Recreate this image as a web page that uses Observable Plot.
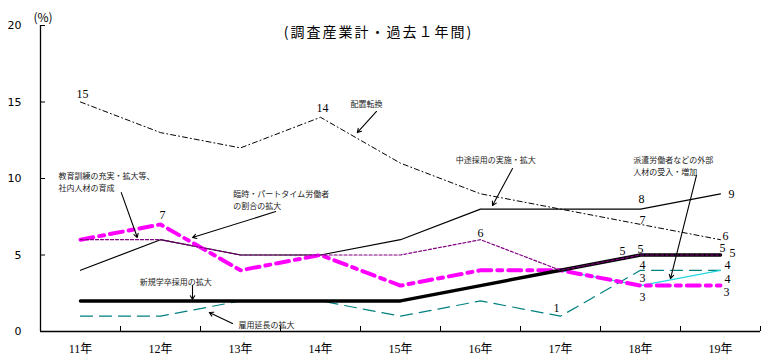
<!DOCTYPE html>
<html><head><meta charset="utf-8">
<script src="https://cdn.jsdelivr.net/npm/d3@7"></script>
<script src="https://cdn.jsdelivr.net/npm/@observablehq/plot@0.6"></script>
<style>
body{margin:0;background:#fff;}
</style>
</head><body><div id="chart"></div>
<script>
const years = ["11年","12年","13年","14年","15年","16年","17年","18年","19年"];
const haichi = [15,13,12,14,11,9,8,7,6];       // 配置転換
const chuto  = [4,6,5,5,6,8,8,8,9];            // 中途採用の実施・拡大
const kyoiku = [6,6,5,5,5,6,4,5,5];            // 教育訓練の充実・拡大等、社内人材の育成
const rinji  = [6,7,4,5,3,4,4,3,3];            // 臨時・パートタイム労働者の割合の拡大
const haken  = [null,null,null,null,null,null,4,3,4]; // 派遣労働者などの外部人材の受入・増加
const shinki = [2,2,2,2,2,3,4,5,5];            // 新規学卒採用の拡大
const koyo   = [1,1,2,2,1,2,1,4,4];            // 雇用延長の拡大
const yTicks = [0,5,10,15,20];
const title = "(調査産業計・過去１年間)";
const unit = "(%)";

const annotations = [
  {text:"配置転換", x:3.375, y:14.9},
  {text:"中途採用の実施・拡大", x:4.69, y:11.24},
  {text:"派遣労働者などの外部\n人材の受入・増加", x:6.91, y:11.24},
  {text:"教育訓練の充実・拡大等、\n社内人材の育成", x:-0.275, y:10.2},
  {text:"臨時・パートタイム労働者\nの割合の拡大", x:1.91, y:9.02},
  {text:"新規学卒採用の拡大", x:0.74, y:3.27},
  {text:"雇用延長の拡大", x:1.975, y:0.46}
];
const arrows = [
  {x1:3.70, y1:14.38, x2:3.46, y2:13.0},
  {x1:5.40, y1:10.65, x2:5.15, y2:8.24},
  {x1:7.70, y1:10.2, x2:7.375, y2:3.46},
  {x1:0.51, y1:9.08, x2:0.71, y2:6.14},
  {x1:2.44, y1:7.84, x2:1.40, y2:6.14},
  {x1:1.40, y1:3.0, x2:1.40, y2:2.09},
  {x1:1.90, y1:0.52, x2:1.61, y2:1.24}
];
const valueLabels = [
  [haichi,0],[haichi,3],[rinji,1],[kyoiku,5],[chuto,7],[chuto,8],[haichi,7],[haichi,8],
  [shinki,7],[kyoiku,7],[kyoiku,8],[shinki,8],[koyo,7],[koyo,8],[haken,8],[haken,7],
  [rinji,7],[rinji,8],[koyo,6]
];
const labelOffsets = [
  [2,-8],[2,-9],[2,-9],[0,-7],[1,-10],[11,0],[2,-4],[5,-4],
  [-18,-4],[0,-6],[2,-7],[12,-2],[2,-5],[7,-5],[7,8.5],[2,-7],
  [2,12],[6,7],[-4,-8]
];

const series = vals => vals.map((v,i)=>({i,v})).filter(d=>d.v!=null);
const idx = years.map((_,i)=>i);
const boundaries = idx.map(i=>i+0.5);
const labelRows = valueLabels.map(([s,i],k)=>({i, v:s[i], dx:labelOffsets[k][0], dy:labelOffsets[k][1]}));

const chart = Plot.plot({
  width:768, height:363,
  marginLeft:40, marginRight:8, marginTop:25, marginBottom:32,
  x:{type:"linear", domain:[-0.5,8.5], axis:null},
  y:{type:"linear", domain:[0,20], axis:null},
  style:{fontFamily:"'Noto Sans CJK JP', sans-serif", background:"#fff"},
  marks:[
    // axes
    Plot.ruleX([-0.5],{y1:0,y2:20,stroke:"black",strokeWidth:1.3}),
    Plot.ruleY([0],{x1:-0.5,x2:8.5,stroke:"black",strokeWidth:1.3}),
    Plot.ruleY(yTicks,{x1:-0.5,x2:-0.5+5/80,stroke:"black"}),
    Plot.ruleX(boundaries,{y1:0,y2:5/15.3,stroke:"black"}),
    Plot.text(yTicks,{x:-0.5,y:d=>d,text:d=>String(d),textAnchor:"end",dx:-19,fontSize:11,fontFamily:"'DejaVu Sans', sans-serif",fill:"black"}),
    Plot.text(idx,{x:d=>d,y:0,text:i=>years[i],dy:18,fontSize:12,fontFamily:"'Liberation Serif','Noto Sans CJK JP', serif",fill:"black"}),
    Plot.text([title],{frameAnchor:"top-left",dx:338,dy:2,text:d=>d,textAnchor:"middle",fontSize:14,fill:"black",className:"ttl"}),
    Plot.text([unit],{frameAnchor:"top-left",dx:-7,dy:-12,text:d=>d,textAnchor:"start",fontSize:12,fill:"black"}),
    // lines
    Plot.line(series(koyo),{x:"i",y:"v",stroke:"#008080",strokeWidth:1.2,strokeDasharray:"12,7"}),
    Plot.line(series(haken),{x:"i",y:"v",stroke:"#22d8e0",strokeWidth:1.2}),
    Plot.line(series(chuto),{x:"i",y:"v",stroke:"black",strokeWidth:1.2}),
    Plot.line(series(haichi),{x:"i",y:"v",stroke:"black",strokeWidth:1,strokeDasharray:"5,3,1,3"}),
    Plot.line(series(rinji),{x:"i",y:"v",stroke:"#ff00ff",strokeWidth:4,strokeDasharray:"13,6,5,6"}),
    Plot.line(series(shinki),{x:"i",y:"v",stroke:"black",strokeWidth:3.5}),
    Plot.line(series(kyoiku),{x:"i",y:"v",stroke:"#800080",strokeWidth:1.2,strokeDasharray:"3,2"}),
    // value labels
    ...labelRows.map(d => Plot.text([d],{x:"i",y:"v",text:r=>String(r.v),dx:d.dx,dy:d.dy,fontSize:12,fontFamily:"'Liberation Serif', serif",fill:"black"})),
    // annotations
    Plot.text(annotations,{x:"x",y:"y",text:"text",textAnchor:"start",lineAnchor:"top",dy:-5,lineHeight:1.5,fontSize:8,fill:"#222"}),
    Plot.arrow(arrows,{x1:"x1",y1:"y1",x2:"x2",y2:"y2",stroke:"black",strokeWidth:1.1,headLength:6})
  ]
});
d3.select(chart).selectAll(".ttl text").style("letter-spacing","2px");
document.getElementById("chart").appendChild(chart);
</script>
</body></html>
